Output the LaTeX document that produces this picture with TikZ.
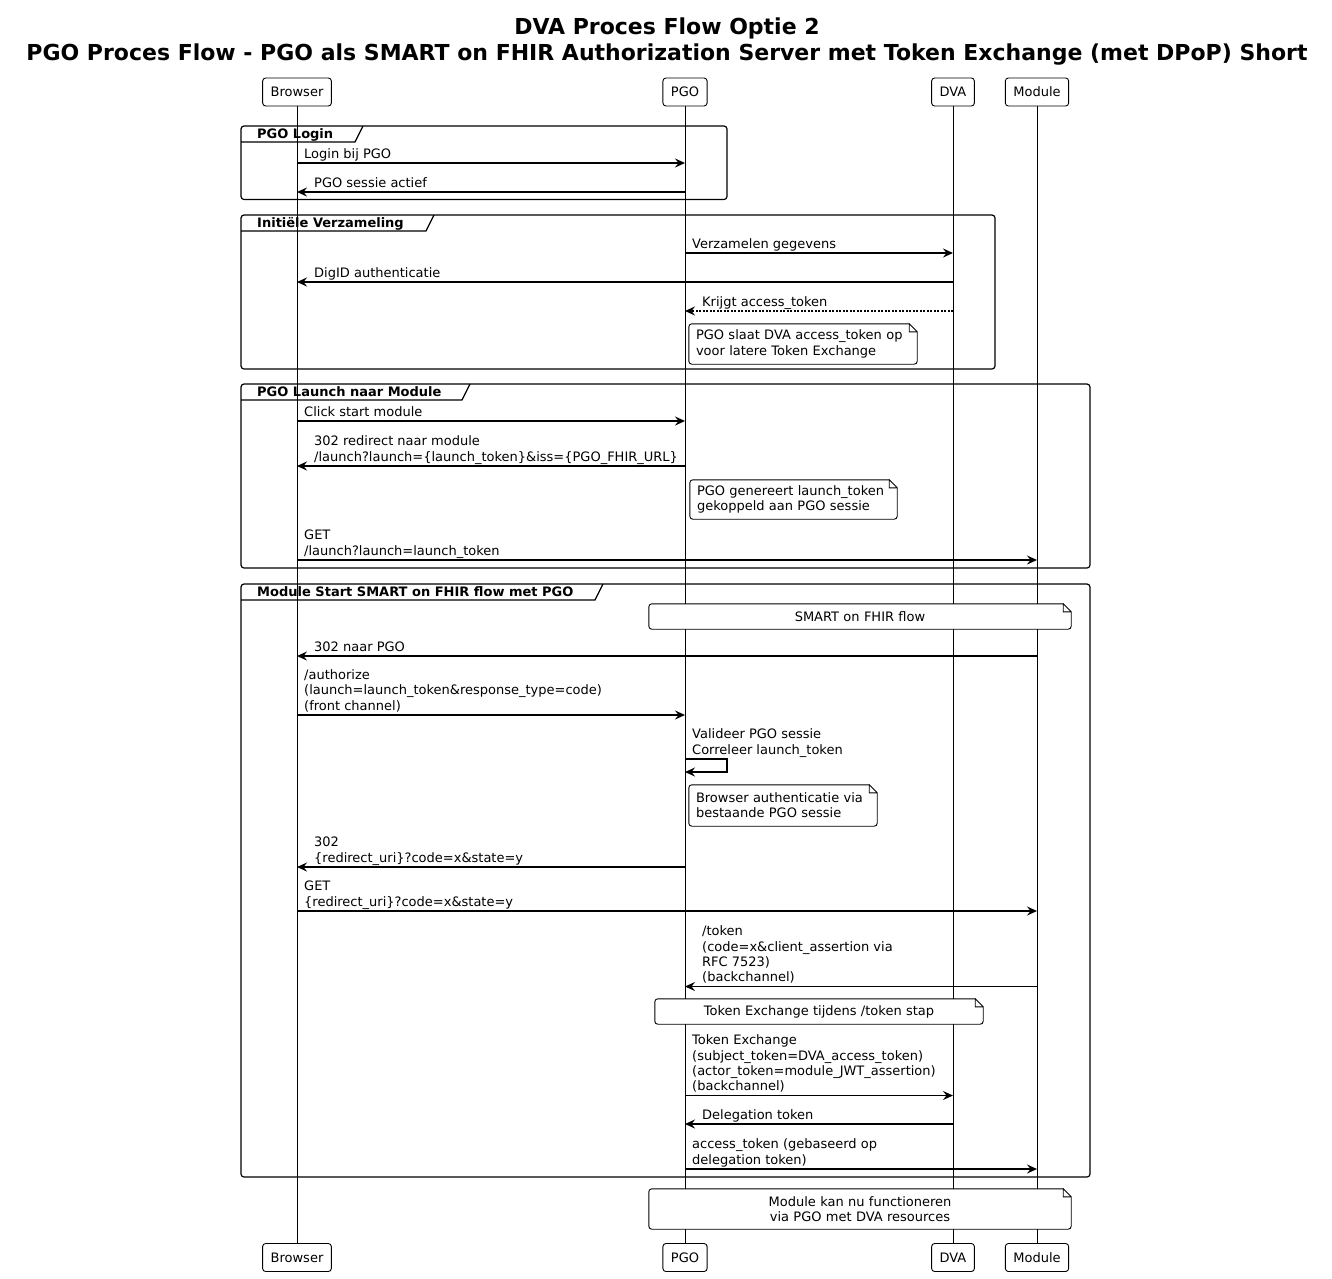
\documentclass[tikz,border=0pt]{standalone}
\usepackage{fontspec}
\setmainfont{DejaVu Sans}
\usetikzlibrary{arrows.meta}
\newcommand{\msgfont}{\fontsize{13}{15.2}\selectfont}
\newcommand{\titlefont}{\fontsize{22}{25.5}\selectfont\bfseries}
\newcommand{\noteframe}[1]{%
  \draw[notestroke, rounded corners=3pt] ([xshift=-8pt]#1.north east) -- (#1.north west) -- (#1.south west) -- (#1.south east) -- ([yshift=-8pt]#1.north east);
  \draw[notestroke] ([yshift=-8pt]#1.north east) -- ([xshift=-8pt]#1.north east) |- ([yshift=-8pt]#1.north east);}
\tikzset{
  actorbox/.style={draw, line width=0.9pt, rounded corners=3pt, fill=white, minimum height=28pt, inner xsep=8pt, font=\msgfont},
  lifeline/.style={line width=0.9pt},
  groupframe/.style={line width=1.2pt, rounded corners=3pt},
  grouptab/.style={line width=1.2pt},
  grouptitle/.style={anchor=base west, inner sep=0pt, font=\msgfont\bfseries},
  msgline/.style={line width=1.6pt, -{Stealth[length=10pt, width=9pt, inset=3.5pt]}},
  replyline/.style={msgline, dash pattern=on 2pt off 1.5pt},
  msgtext/.style={anchor=base west, inner sep=0pt, align=left, font=\msgfont},
  notebox/.style={fill=white, inner xsep=7pt, inner ysep=0pt, font=\msgfont},
  notestroke/.style={line width=0.9pt}
}

\begin{document}
\begin{tikzpicture}[x=1pt, y=-1pt]
\useasboundingbox[fill=white] (0,0) rectangle (1332,1278);

% title
\node (title) [anchor=base, align=center, font=\titlefont] at (667,60) {DVA Proces Flow Optie 2\\PGO Proces Flow - PGO als SMART on FHIR Authorization Server met Token Exchange (met DPoP) Short};

% participants
\node (pBrowser) [actorbox] at (297,92) {Browser};
\node (pPGO) [actorbox] at (685,92) {PGO};
\node (pDVA) [actorbox] at (953,92) {DVA};
\node (pModule) [actorbox] at (1037,92) {Module};
\node (bBrowser) [actorbox] at (297,1257.5) {Browser};
\node (bPGO) [actorbox] at (685,1257.5) {PGO};
\node (bDVA) [actorbox] at (953,1257.5) {DVA};
\node (bModule) [actorbox] at (1037,1257.5) {Module};

\draw[lifeline] (pBrowser.south) -- (bBrowser.north);
\draw[lifeline] (pPGO.south) -- (bPGO.north);
\draw[lifeline] (pDVA.south) -- (bDVA.north);
\draw[lifeline] (pModule.south) -- (bModule.north);

% PGO Login
\draw[groupframe] (241,126) rectangle (727,199.5);
\draw[grouptab] (241,142) -- (355,142) -- (363,126);
\node (gLogin) [grouptitle] at (257,138.5) {PGO Login};
\draw[msgline] (pBrowser |- 0,163) -- (pPGO |- 0,163);
\node (tLogin) [msgtext] at (304,158) {Login bij PGO};
\draw[msgline] (pPGO |- 0,192) -- (pBrowser |- 0,192);
\node (tSessie) [msgtext] at (314,187) {PGO sessie actief};

% Initiele Verzameling
\draw[groupframe] (241,215) rectangle (995,369);
\draw[grouptab] (241,231) -- (426,231) -- (434,215);
\node (gVerzamel) [grouptitle] at (257,227.5) {Initiële Verzameling};
\draw[msgline] (pPGO |- 0,253) -- (pDVA |- 0,253);
\node (tVerzamel) [msgtext] at (692,248) {Verzamelen gegevens};
\draw[msgline] (pDVA |- 0,282) -- (pBrowser |- 0,282);
\node (tDigid) [msgtext] at (314,277) {DigID authenticatie};
\draw[replyline] (pDVA |- 0,311) -- (pPGO |- 0,311);
\node (tKrijgt) [msgtext] at (702,306) {Krijgt access\_token};
\node (nSlaat) [notebox, align=left, text width=214, minimum height=40] at (803,344) {PGO slaat DVA access\_token op\\voor latere Token Exchange};
\noteframe{nSlaat}

% PGO Launch naar Module
\draw[groupframe] (241,384) rectangle (1090,568);
\draw[grouptab] (241,400) -- (462,400) -- (470,384);
\node (gLaunch) [grouptitle] at (257,396.5) {PGO Launch naar Module};
\draw[msgline] (pBrowser |- 0,421) -- (pPGO |- 0,421);
\node (tClick) [msgtext] at (304,416) {Click start module};
\draw[msgline] (pPGO |- 0,466) -- (pBrowser |- 0,466);
\node (tRedirect) [msgtext] at (314,461) {302 redirect naar module\\/launch?launch=\{launch\_token\}\&iss=\{PGO\_FHIR\_URL\}};
\node (nGenereert) [notebox, align=left, text width=193, minimum height=39] at (793.5,499.5) {PGO genereert launch\_token\\gekoppeld aan PGO sessie};
\noteframe{nGenereert}
\draw[msgline] (pBrowser |- 0,560) -- (pModule |- 0,560);
\node (tGetLaunch) [msgtext] at (304,555) {GET\\/launch?launch=launch\_token};

% Module Start SMART on FHIR flow met PGO
\draw[groupframe] (241,584) rectangle (1090,1177);
\draw[grouptab] (241,600) -- (595,600) -- (603,584);
\node (gSmart) [grouptitle] at (257,596.5) {Module Start SMART on FHIR flow met PGO};
\node (nSmart) [notebox, align=center, text width=408, minimum height=25] at (860,616.5) {SMART on FHIR flow};
\noteframe{nSmart}
\draw[msgline] (pModule |- 0,656) -- (pBrowser |- 0,656);
\node (tNaarPgo) [msgtext] at (314,651) {302 naar PGO};
\draw[msgline] (pBrowser |- 0,715) -- (pPGO |- 0,715);
\node (tAuthorize) [msgtext] at (304,710) {/authorize\\(launch=launch\_token\&response\_type=code)\\(front channel)};
\draw[msgline] (pPGO |- 0,759) -- (727,759) -- (727,772) -- (pPGO |- 0,772);
\node (tValideer) [msgtext] at (692,754) {Valideer PGO sessie\\Correleer launch\_token};
\node (nBrowserAuth) [notebox, align=left, text width=174, minimum height=41] at (783,805.5) {Browser authenticatie via\\bestaande PGO sessie};
\noteframe{nBrowserAuth}
\draw[msgline] (pPGO |- 0,867) -- (pBrowser |- 0,867);
\node (tCode) [msgtext] at (314,862) {302\\\{redirect\_uri\}?code=x\&state=y};
\draw[msgline] (pBrowser |- 0,911) -- (pModule |- 0,911);
\node (tGetCode) [msgtext] at (304,906) {GET\\\{redirect\_uri\}?code=x\&state=y};
\draw[msgline] (pModule |- 0,986.5) -- (pPGO |- 0,986.5);
\node (tToken) [msgtext] at (702,981.5) {/token\\(code=x\&client\_assertion via\\RFC 7523)\\(backchannel)};
\node (nTijdens) [notebox, align=center, text width=314, minimum height=25] at (819,1011.5) {Token Exchange tijdens /token stap};
\noteframe{nTijdens}
\draw[msgline] (pPGO |- 0,1095.5) -- (pDVA |- 0,1095.5);
\node (tExchange) [msgtext] at (692,1090.5) {Token Exchange\\(subject\_token=DVA\_access\_token)\\(actor\_token=module\_JWT\_assertion)\\(backchannel)};
\draw[msgline] (pDVA |- 0,1124) -- (pPGO |- 0,1124);
\node (tDelegation) [msgtext] at (702,1119) {Delegation token};
\draw[msgline] (pPGO |- 0,1169) -- (pModule |- 0,1169);
\node (tAccess) [msgtext] at (692,1164) {access\_token (gebaseerd op\\delegation token)};

\node (nFunctioneren) [notebox, align=center, text width=408, minimum height=40] at (860,1209) {Module kan nu functioneren\\via PGO met DVA resources};
\noteframe{nFunctioneren}
\end{tikzpicture}
\end{document}
